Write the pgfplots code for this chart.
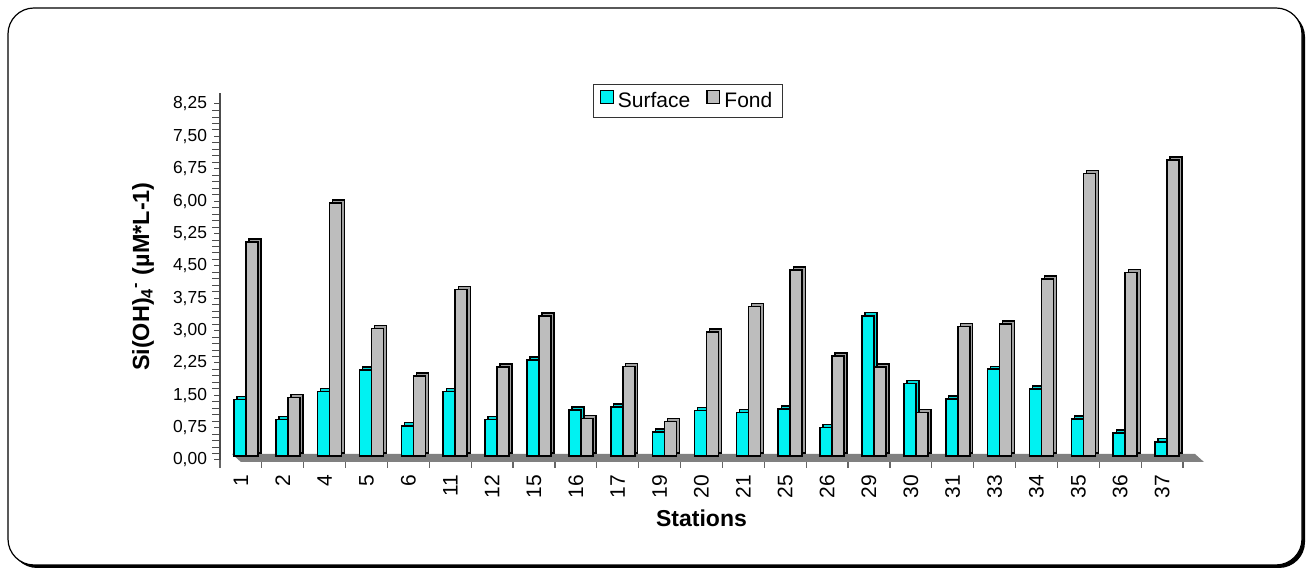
\documentclass[border=0pt]{standalone}
\usepackage{pgfplots}
\pgfplotsset{compat=1.18}
\usetikzlibrary{calc}
\usepackage{fontspec}
\setmainfont{Liberation Sans}
\definecolor{surf}{HTML}{00F2F2}
\definecolor{fond}{HTML}{BDBDBD}
\definecolor{floorgray}{HTML}{808080}
\pgfplotstableread{
x surface fond
0 1.31 4.96
1 0.85 1.36
2 1.49 5.86
3 1.99 2.95
4 0.70 1.85
5 1.49 3.86
6 0.85 2.06
7 2.22 3.24
8 1.07 0.87
9 1.14 2.07
10 0.56 0.80
11 1.05 2.87
12 1.01 3.46
13 1.09 4.31
14 0.66 2.32
15 3.25 2.06
16 1.68 1.01
17 1.32 3.00
18 2.01 3.06
19 1.55 4.10
20 0.86 6.55
21 0.53 4.25
22 0.33 6.86
}\datatable
\begin{document}
\begin{tikzpicture}[x=1pt,y=1pt]
\useasboundingbox (0,0) rectangle (657.5,285.5);
% frame with shadow
\fill[black,rounded corners=13pt] (5.5,1.5) rectangle (652.5,280);
\filldraw[fill=white,draw=black,line width=0.6pt,rounded corners=13pt] (4,3) rectangle (651,281.5);
\begin{axis}[
  at={(110pt,55.5pt)}, anchor=south west,
  scale only axis, width=481.5pt, height=183.4pt,
  xmin=-0.5, xmax=22.5, ymin=0, ymax=8.5,
  axis x line=bottom, axis y line=left,
  axis line style={-, draw=black!70, line width=0.6pt},
  x axis line style={draw=none},
  ybar=0pt, bar width=6pt,
  xtick={0,...,22},
  xticklabels={1,2,4,5,6,11,12,15,16,17,19,20,21,25,26,29,30,31,33,34,35,36,37},
  major x tick style={draw=none},
  minor xtick={-0.5,0.5,...,22.5},
  minor x tick style={draw=black!60, line width=0.6pt},
  minor tick length=4pt,
  x tick label style={rotate=90, anchor=east, font=\fontsize{10.5}{12}\selectfont, xshift=-1pt},
  ytick={0,0.75,1.5,2.25,3,3.75,4.5,5.25,6,6.75,7.5,8.25},
  minor y tick num=4,
  y tick label style={font=\fontsize{8.7}{10}\selectfont,
    /pgf/number format/.cd, fixed, fixed zerofill, precision=2, use comma, assume math mode=true},
  major y tick style={draw=black!70, line width=0.5pt},
  minor y tick style={draw=black!70, line width=0.4pt},
  major tick length=3pt,
  tick align=outside,
  ylabel={\textbf{Si(OH)\textsubscript{4}\textsuperscript{-} (µM*L-1)}},
  ylabel style={at={(axis description cs:-0.08,0.5)}, anchor=center, rotate=0, font=\fontsize{11.7}{13}\selectfont},
  xlabel={\textbf{Stations}},
  xlabel style={at={(axis description cs:0.5,-0.158)}, anchor=center, font=\fontsize{11.5}{13}\selectfont},
  legend style={at={(axis description cs:0.486,0.979)}, anchor=center, legend columns=2, draw=black!80, line width=0.5pt,
    font=\fontsize{10.5}{12}\selectfont, inner xsep=3pt, inner ysep=1.5pt,
    /tikz/every even column/.append style={column sep=6pt}},
  legend image code/.code={\draw[#1, line width=0.7pt] (0pt,-3.2pt) rectangle (6.4pt,3.2pt);},
  clip=false,
]
\fill[floorgray] ($(axis cs:-0.5,0)+(0,-1pt)$) -- ($(axis cs:22.5,0)+(0,-1pt)$) -- ($(axis cs:22.5,0)+(6pt,3pt)$) -- ($(axis cs:-0.5,0)+(6pt,3pt)$) -- cycle;
% depth copies (3D look)
\addplot[forget plot, fill=surf!90!black, draw=black, line width=0.7pt, bar shift=-0.5pt, xshift=1.5pt, yshift=3.5pt] table[x=x,y=surface]{\datatable};
\addplot[fill=surf, draw=black, line width=0.8pt, bar shift=-0.5pt, yshift=2pt] table[x=x,y=surface]{\datatable};
\addlegendentry{Surface}
\addplot[forget plot, fill=fond!85!black, draw=black, line width=0.7pt, bar shift=5.5pt, xshift=1.5pt, yshift=3.5pt] table[x=x,y=fond]{\datatable};
\addplot[fill=fond, draw=black, line width=0.8pt, bar shift=5.5pt, yshift=2pt] table[x=x,y=fond]{\datatable};
\addlegendentry{Fond}
\end{axis}
\end{tikzpicture}
\end{document}
